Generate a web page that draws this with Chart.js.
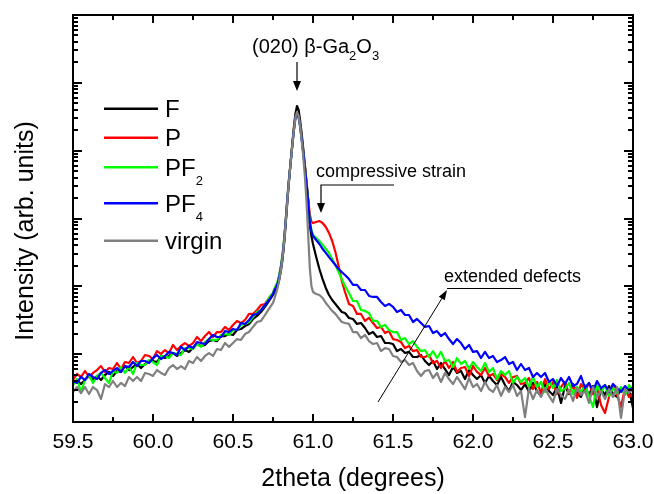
<!DOCTYPE html>
<html><head><meta charset="utf-8">
<script src="https://cdn.jsdelivr.net/npm/chart.js@4.4.1/dist/chart.umd.min.js"></script>
<style>html,body{margin:0;padding:0;background:#fff;}#wrap{width:654px;height:494px;}</style>
</head><body><div id="wrap"><canvas id="c" width="654" height="494"></canvas></div>
<script>
// ---------- data ----------
const theta = [
59.5,59.525,59.55,59.575,59.6,59.625,59.65,59.675,59.7,59.725,59.75,59.775,59.8,59.825,59.85,59.875,59.9,59.925,59.95,59.975,
60,60.025,60.05,60.075,60.1,60.125,60.15,60.175,60.2,60.225,60.25,60.275,60.3,60.325,60.35,60.375,60.4,60.425,60.45,60.475,
60.5,60.525,60.55,60.575,60.6,60.625,60.65,60.675,60.7,60.725,60.75,
60.76,60.77,60.78,60.79,60.8,60.81,60.82,60.83,60.84,60.85,60.86,60.87,60.88,60.89,60.9,60.91,60.92,60.93,60.94,60.95,60.96,60.97,60.98,60.99,61,
61.02,61.04,61.06,61.08,61.1,61.12,61.14,61.16,61.18,61.2,
61.225,61.25,61.275,61.3,61.325,61.35,61.375,61.4,61.425,61.45,61.475,61.5,61.525,61.55,61.575,61.6,61.625,61.65,61.675,61.7,
61.725,61.75,61.775,61.8,61.825,61.85,61.875,61.9,61.925,61.95,61.975,62,62.025,62.05,62.075,62.1,62.125,62.15,62.175,62.2,62.225,62.25,62.275,62.3,62.325,
62.35,62.375,62.4,62.425,62.45,62.475,62.5,62.525,62.55,62.575,62.6,62.625,62.65,62.675,62.7,62.725,62.75,62.775,62.8,62.825,62.85,62.875,62.9,62.925,62.95,62.975,63
];
const intensityF = [
3.63,4.16,3.63,4.16,4.77,4.16,4.77,4.16,4.93,5.46,4.77,5.65,5.46,6.69,5.84,6.47,7.16,6.25,7.16,7.93,
7.93,7.66,9.40,8.78,9.40,10.4,9.40,10.4,11.5,10.8,12.3,14.1,13.2,13.7,15.6,16.2,15.6,18.5,18.5,19.8,
19.2,22.7,23.5,26.0,27.9,33.0,36.6,41.9,49.7,60.8,74.5,
82.5,91.3,105,128,174,253,436,858,1810,3570,6580,12130,21620,34750,45550,39780,27370,17030,10230,5940,3340,1875,802,552,421,
270,180,128,94.6,74.5,62.9,55.0,48.0,41.9,40.5,
34.2,33.0,27.9,28.8,24.3,19.8,21.2,17.9,18.5,14.6,14.6,14.1,11.1,11.9,10.4,10.8,9.08,9.08,9.72,7.93,
6.92,7.93,6.04,7.41,6.04,4.93,6.47,5.28,5.65,4.30,5.84,4.93,4.30,4.93,3.76,4.77,4.02,3.51,4.61,3.51,
2.86,3.89,3.51,2.96,3.63,2.77,3.76,2.86,2.42,3.63,2.86,2.50,3.28,1.91,3.39,2.58,3.63,2.67,2.34,3.28,
2.50,3.39,1.66,3.06,2.50,3.39,2.58,2.34,3.17,2.58,3.06,1.61
];
const intensityP = [
4.16,5.10,4.61,5.65,4.61,5.28,5.84,6.69,5.46,6.25,6.04,7.41,6.04,7.66,7.41,9.08,7.41,7.93,9.72,9.40,
8.48,11.1,10.1,11.5,10.4,13.7,11.5,13.2,14.6,13.2,14.6,17.9,15.6,18.5,21.2,17.9,21.2,21.2,25.2,22.7,
26.9,30.9,28.8,31.9,39.2,39.2,44.8,53.1,55.0,67.3,79.8,
91.3,101,116,147,199,290,499,984,2010,3830,6810,11720,20180,30400,35950,32430,23100,14870,9250,5560,3230,1875,1166,888,858,
888,919,858,749,612,466,320,199,120,82.5,
55.0,51.4,39.2,39.2,30.9,34.2,28.8,24.3,25.2,20.5,21.9,16.7,16.2,15.1,12.3,13.2,11.1,11.5,9.08,9.08,
9.72,7.41,7.93,6.25,7.93,6.25,7.66,5.46,6.25,6.47,4.77,6.69,5.46,4.93,6.25,4.77,5.10,4.16,5.10,4.61,
3.76,4.61,4.77,3.63,3.76,4.45,3.06,3.89,2.67,4.30,3.06,3.89,2.58,3.28,3.89,2.67,3.51,2.26,3.63,2.86,
3.76,2.58,3.28,1.78,1.36,2.34,3.51,2.58,1.66,3.17,2.34,2.67
];
const intensityPF2 = [
3.51,4.30,2.77,4.16,4.93,3.76,4.77,5.28,4.45,3.76,5.65,5.28,6.47,5.28,6.47,5.10,7.41,6.92,6.92,8.20,
7.66,6.92,9.40,9.40,8.78,10.4,10.1,9.72,12.3,12.3,11.9,14.1,12.8,15.1,16.7,16.2,16.2,19.2,19.8,19.2,
22.7,22.7,26.9,27.9,29.8,35.4,41.9,44.8,53.1,67.3,79.8,
94.5,105,120,152,206,300,517,984,2010,3830,6580,11720,19500,30340,34750,31340,22330,14370,8940,5370,3120,1810,951,677,571,
517,466,407,355,311,253,206,162,128,101,
79.8,60.8,60.8,44.8,43.4,40.5,30.9,30.9,25.2,26.9,22.7,21.2,21.2,16.2,17.3,14.1,15.6,12.8,11.1,11.5,
9.08,11.1,8.78,10.8,7.93,8.20,6.47,8.78,7.16,7.93,6.04,7.66,6.47,5.65,7.41,5.46,6.25,4.30,5.65,4.93,
5.65,3.76,4.61,3.89,4.45,3.28,4.61,3.28,3.89,2.77,4.02,3.17,4.16,2.86,3.06,3.76,2.58,3.28,2.77,3.51,
2.42,1.66,3.51,2.67,3.51,2.42,3.17,2.67,3.28,2.50,3.51,2.86
];
const intensityPF4 = [
4.02,3.76,4.61,4.16,5.10,4.61,4.30,5.28,5.84,5.10,5.65,6.25,5.46,6.69,6.47,7.66,6.69,7.93,7.93,7.41,
8.78,9.72,8.48,9.40,10.8,10.4,9.72,12.8,11.5,13.2,12.3,15.1,14.6,14.1,16.7,19.2,17.9,17.9,21.9,21.2,
23.5,22.7,28.8,27.9,31.9,37.8,39.2,44.8,53.1,62.9,77.1,
88.3,98.0,112,142,192,280,482,951,1940,3697,6580,11330,19500,30340,34730,31330,22320,14370,8940,5370,3120,1810,888,654,552,
482,421,355,311,270,236,206,180,162,147,
128,105,105,88.3,88.3,72.1,69.7,69.7,58.8,51.4,55.0,49.7,41.9,44.8,37.8,37.8,29.8,33.0,28.8,25.2,
26.0,20.5,21.9,18.5,20.5,16.7,14.1,16.7,14.6,11.9,13.7,10.8,11.1,8.78,10.8,8.78,9.40,7.66,8.20,9.08,
7.16,7.66,5.84,7.16,5.84,6.25,4.61,5.28,4.61,5.28,3.89,4.30,3.39,4.45,3.63,4.61,3.39,3.63,4.77,3.17,
3.76,2.86,4.02,3.17,3.51,2.77,3.63,3.17,2.77,3.39,2.86,3.28
];
const intensityVirgin = [
2.77,3.28,2.67,3.28,2.58,3.28,2.96,2.18,3.63,3.28,4.02,3.28,3.76,3.39,4.61,4.02,4.61,4.02,5.28,5.10,
4.77,5.84,5.28,4.93,6.25,6.92,6.04,6.69,6.04,7.93,7.41,9.08,7.93,9.40,10.4,9.40,11.9,11.5,14.6,12.8,
14.6,16.7,16.2,19.8,21.2,25.2,29.8,30.9,37.8,46.4,56.9,
67.3,79.8,98.0,128,180,270,466,919,1875,3570,6370,11330,19500,30340,37200,32430,22330,13420,7810,3960,1690,571,187,101,82.5,
77.1,74.5,67.3,56.9,49.7,43.4,39.2,34.2,29.8,28.8,
27.9,21.2,21.2,17.3,19.2,15.6,14.1,14.6,11.1,12.3,11.9,9.40,9.08,7.66,8.20,6.92,7.41,5.65,4.77,5.65,
5.84,4.45,5.28,3.89,5.28,4.30,3.63,4.61,3.76,3.06,4.45,3.28,3.63,2.86,3.89,3.06,2.77,3.51,2.42,3.28,
2.77,3.51,2.42,2.86,1.18,3.17,2.18,2.96,2.34,3.17,2.42,1.97,3.06,2.50,2.18,2.96,2.04,3.17,2.50,2.86,
1.91,3.28,2.34,2.86,2.18,3.06,2.34,3.28,1.15,3.06,2.67,3.06
];
const seriesNames = ['F','P','PF_2','PF_4','virgin'];
const seriesColors = ['#000000','#ff0000','#00ff00','#0000ff','#808080'];
const seriesValues = [intensityF, intensityP, intensityPF2, intensityPF4, intensityVirgin];
const xTickValues = [59.5,60.0,60.5,61.0,61.5,62.0,62.5,63.0];
const xTickLabels = ['59.5','60.0','60.5','61.0','61.5','62.0','62.5','63.0'];
const xTitle = '2theta (degrees)';
const yTitle = 'Intensity (arb. units)';
const peakLabel = '(020) \u03b2-Ga_2O_3';
const strainLabel = 'compressive strain';
const defectLabel = 'extended defects';

seriesValues.forEach((s,i)=>{ if (s.length !== theta.length) throw new Error('length mismatch '+i+': '+s.length+' vs '+theta.length); });

// ---------- drawing ----------
const FAM = '"Liberation Sans", Arial, Helvetica, sans-serif';

function drawRich(ctx, text, x, y, size, subSize, subDrop, align) {
  const parts = text.split(/_(\d)/);
  const pieces = parts.map((t,i)=>({t, sub: i%2===1}));
  let total = 0;
  pieces.forEach(p=>{ ctx.font = (p.sub?subSize:size)+'px '+FAM; p.w = ctx.measureText(p.t).width; total += p.w; });
  let cx = align==='center' ? x - total/2 : x;
  ctx.textAlign = 'left'; ctx.textBaseline = 'alphabetic';
  pieces.forEach(p=>{ ctx.font = (p.sub?subSize:size)+'px '+FAM; ctx.fillText(p.t, cx, p.sub ? y+subDrop : y); cx += p.w; });
}
function arrowHead(ctx, x0, y0, x1, y1, len, half) {
  const a = Math.atan2(y1-y0, x1-x0);
  ctx.beginPath();
  ctx.moveTo(x1, y1);
  ctx.lineTo(x1 - len*Math.cos(a) + half*Math.sin(a), y1 - len*Math.sin(a) - half*Math.cos(a));
  ctx.lineTo(x1 - len*Math.cos(a) - half*Math.sin(a), y1 - len*Math.sin(a) + half*Math.cos(a));
  ctx.closePath(); ctx.fill();
}

const decor = {
  id: 'decor',
  afterDatasetsDraw(chart) {
    const {ctx, chartArea: a, scales: {x, y}} = chart;
    ctx.save();
    ctx.strokeStyle = '#000'; ctx.fillStyle = '#000'; ctx.lineWidth = 2; ctx.lineCap = 'butt';
    // x ticks (inward, mirrored top)
    for (let i = 0; i <= 14; i++) {
      const v = 59.5 + i*0.25;
      const px = Math.round(x.getPixelForValue(v));
      const L = (i%2===0) ? 8 : 5;
      ctx.beginPath();
      ctx.moveTo(px, a.bottom); ctx.lineTo(px, a.bottom - L);
      ctx.moveTo(px, a.top); ctx.lineTo(px, a.top + L);
      ctx.stroke();
    }
    // y ticks (log, inward, mirrored right)
    for (let k = 0; k <= 5; k++) {
      for (let m = 1; m <= 9; m++) {
        const v = m*Math.pow(10,k);
        const py = Math.round(y.getPixelForValue(v));
        const L = m===1 ? 9 : 5;
        ctx.beginPath();
        ctx.moveTo(a.left, py); ctx.lineTo(a.left + L, py);
        ctx.moveTo(a.right, py); ctx.lineTo(a.right - L, py);
        ctx.stroke();
      }
    }
    ctx.strokeRect(a.left, a.top, a.right - a.left, a.bottom - a.top);

    // legend
    const legY = [108.7, 137.7, 167.3, 203.3, 240.7];
    seriesNames.forEach((n,i)=>{
      ctx.strokeStyle = seriesColors[i]; ctx.lineWidth = 2.5;
      ctx.beginPath(); ctx.moveTo(104, legY[i]); ctx.lineTo(158, legY[i]); ctx.stroke();
      ctx.fillStyle = '#000';
      drawRich(ctx, n, 165, legY[i] + 8.6, 24, 13, 9, 'left');
    });

    // peak annotation
    ctx.fillStyle = '#000'; ctx.strokeStyle = '#000'; ctx.lineWidth = 1.2;
    drawRich(ctx, peakLabel, 252, 53, 20, 13, 7, 'left');
    const pkx = x.getPixelForValue(60.9);
    ctx.beginPath(); ctx.moveTo(pkx, 62); ctx.lineTo(pkx, 84); ctx.stroke();
    arrowHead(ctx, pkx, 62, pkx, 91, 10, 4);

    // compressive strain
    drawRich(ctx, strainLabel, 316, 177, 18, 12, 6, 'left');
    ctx.beginPath(); ctx.moveTo(394, 185); ctx.lineTo(321, 185); ctx.lineTo(321, 205); ctx.stroke();
    arrowHead(ctx, 321, 185, 321, 213, 10, 4);

    // extended defects
    drawRich(ctx, defectLabel, 444, 282, 18, 12, 6, 'left');
    ctx.lineWidth = 1;
    ctx.beginPath(); ctx.moveTo(447, 288.5); ctx.lineTo(522, 288.5); ctx.stroke();
    ctx.beginPath(); ctx.moveTo(378, 402); ctx.lineTo(444, 295); ctx.stroke();
    arrowHead(ctx, 378, 402, 447, 290, 10, 3.5);

    // y title
    ctx.save();
    ctx.translate(26, 231); ctx.rotate(-Math.PI/2);
    ctx.font = '25px ' + FAM; ctx.textAlign = 'center'; ctx.textBaseline = 'middle';
    ctx.fillText(yTitle, 0, 0);
    ctx.restore();
    ctx.restore();
  }
};

const drawOrder = [5, 4, 3, 2, 1]; // virgin on top, F at bottom
const datasets = seriesNames.map((n,i)=>({
  label: n.replace('_',''),
  data: theta.map((t,j)=>({x: t, y: seriesValues[i][j]})),
  borderColor: seriesColors[i],
  backgroundColor: seriesColors[i],
  borderWidth: 2.2,
  pointRadius: 0,
  tension: 0,
  borderJoinStyle: 'round',
  fill: false,
  order: drawOrder[i]
}));

new Chart(document.getElementById('c'), {
  type: 'line',
  data: { datasets },
  options: {
    responsive: false,
    animation: false,
    events: [],
    layout: { padding: { top: 15, right: 21, left: 0, bottom: 0 } },
    plugins: { legend: { display: false }, tooltip: { enabled: false } },
    scales: {
      x: {
        type: 'linear', min: 59.5, max: 63.0,
        afterBuildTicks: s => { s.ticks = xTickValues.map(v => ({ value: v })); },
        afterFit: s => { s.height = 72; s.paddingLeft = 0; s.paddingRight = 0; },
        grid: { display: false, drawTicks: false },
        border: { display: false },
        ticks: {
          callback: (v) => { const i = xTickValues.indexOf(v); return i >= 0 ? xTickLabels[i] : ''; },
          font: { size: 21, family: FAM }, color: '#000', padding: 8, maxRotation: 0, autoSkip: false
        },
        title: { display: true, text: xTitle, font: { size: 25, family: FAM }, color: '#000', padding: { top: 0, bottom: 0 } }
      },
      y: {
        type: 'logarithmic', min: 1, max: 1e6,
        afterFit: s => { s.width = 73; s.paddingTop = 0; s.paddingBottom = 0; },
        grid: { display: false, drawTicks: false },
        border: { display: false },
        ticks: { display: false }
      }
    }
  },
  plugins: [decor]
});
</script>
</body></html>
